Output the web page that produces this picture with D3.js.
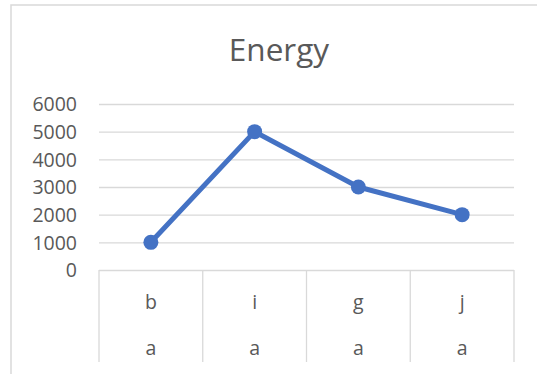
<!DOCTYPE html>
<html>
<head>
<meta charset="utf-8">
<script src="https://cdn.jsdelivr.net/npm/d3@7"></script>
<style>
  html, body { margin: 0; padding: 0; background: #fff; }
  svg { display: block; }
  text { font-family: "Open Sans", "Noto Sans", sans-serif; fill: #595959; }
</style>
</head>
<body>
<script>
// Chart data
const categories = ["b", "i", "g", "j"];
const groupLabels = ["a", "a", "a", "a"];
const energyValues = [1000, 5000, 3000, 2000];
const yTicks = [0, 1000, 2000, 3000, 4000, 5000, 6000];
const chartTitle = "Energy";

const W = 537, H = 374;
const plot = { left: 99, right: 514, top: 104, bottom: 270 };
const catRowBottom = 362;

const svg = d3.select("body").append("svg")
  .attr("width", W).attr("height", H);

// Chart-area frame (extends past the right and bottom edges)
svg.append("rect")
  .attr("x", 11).attr("y", 5)
  .attr("width", 560).attr("height", 400)
  .attr("fill", "#fff")
  .attr("stroke", "#d9d9d9").attr("stroke-width", 1.5);

const x = d3.scaleBand().domain(categories.map((c, i) => i))
  .range([plot.left, plot.right]).paddingInner(0).paddingOuter(0);
const y = d3.scaleLinear().domain([0, 6000]).range([plot.bottom, plot.top]);

// Title
svg.append("text")
  .attr("x", 279).attr("y", 61)
  .attr("text-anchor", "middle")
  .style("font-size", "31.5px")
  .style("font-weight", 400)
  .text(chartTitle);

// Horizontal gridlines + y tick labels
const yAxis = d3.axisLeft(y).tickValues(yTicks).tickFormat(d3.format("d"))
  .tickSize(-(plot.right - plot.left)).tickPadding(22);
const gy = svg.append("g").attr("transform", `translate(${plot.left},0)`).call(yAxis);
gy.select(".domain").remove();
gy.selectAll(".tick line").attr("stroke", "#d9d9d9").attr("stroke-width", 1.3);
gy.selectAll(".tick text")
  .style("font-size", "19.5px")
  .attr("fill", "#595959")
  .attr("dy", "0.35em");

// Multi-level category axis: separators and labels
const seps = d3.range(categories.length + 1).map(i =>
  i < categories.length ? x(i) : x(categories.length - 1) + x.bandwidth());
svg.append("g").selectAll("line").data(seps).join("line")
  .attr("x1", d => d).attr("x2", d => d)
  .attr("y1", plot.bottom).attr("y2", catRowBottom)
  .attr("stroke", "#d9d9d9").attr("stroke-width", 1.3);

svg.append("g").selectAll("text").data(categories).join("text")
  .attr("x", (d, i) => x(i) + x.bandwidth() / 2)
  .attr("y", 309)
  .attr("text-anchor", "middle")
  .style("font-size", "19.5px")
  .text(d => d);

svg.append("g").selectAll("text").data(groupLabels).join("text")
  .attr("x", (d, i) => x(i) + x.bandwidth() / 2)
  .attr("y", 355)
  .attr("text-anchor", "middle")
  .style("font-size", "19.5px")
  .text(d => d);

// Series line and markers
const line = d3.line()
  .x((d, i) => x(i) + x.bandwidth() / 2)
  .y(d => y(d));

svg.append("path")
  .datum(energyValues)
  .attr("d", line)
  .attr("fill", "none")
  .attr("stroke", "#4472c4")
  .attr("stroke-width", 5)
  .attr("stroke-linejoin", "round")
  .attr("stroke-linecap", "round");

svg.append("g").selectAll("circle").data(energyValues).join("circle")
  .attr("cx", (d, i) => x(i) + x.bandwidth() / 2)
  .attr("cy", d => y(d))
  .attr("r", 7.5)
  .attr("fill", "#4472c4");
</script>
</body>
</html>
